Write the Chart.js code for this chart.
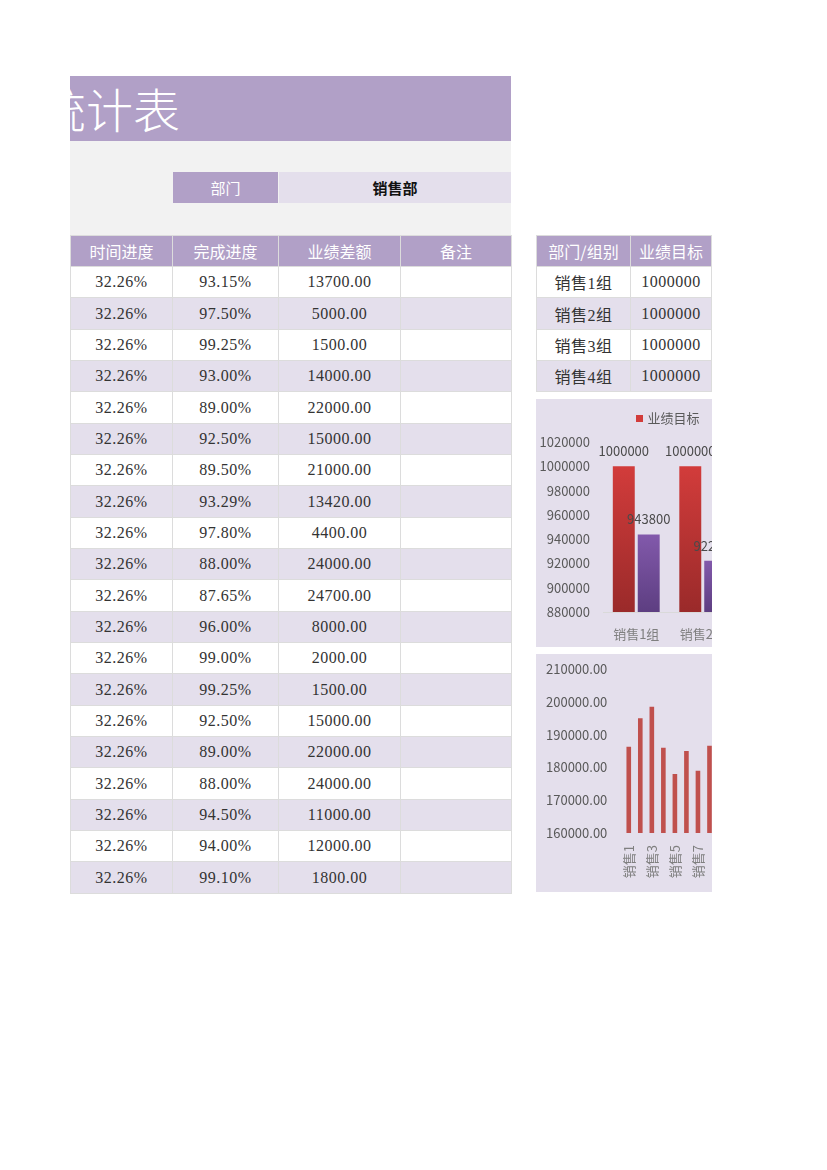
<!DOCTYPE html>
<html><head><meta charset="utf-8">
<script src="https://cdn.jsdelivr.net/npm/chart.js@4.4.1/dist/chart.umd.min.js"></script>
<style>
html,body{margin:0;padding:0;background:#fff;}
body{width:827px;height:1170px;position:relative;overflow:hidden;font-family:"Noto Sans CJK SC",sans-serif;}
.a{position:absolute;box-sizing:border-box;}
.cell{position:absolute;display:flex;align-items:center;justify-content:center;white-space:nowrap;overflow:hidden;}
.hd{background:#b1a0c7;color:#fff;font-size:16px;font-family:"Noto Sans CJK SC",sans-serif;}
.num{font-family:"Liberation Serif","Noto Sans CJK SC",serif;font-size:16px;color:#333;letter-spacing:0.5px;}
.w{background:#fff;}
.l{background:#e4dfec;}
</style>
</head><body>
<!-- title band -->
<div class="a" style="left:70px;top:76px;width:441px;height:65px;background:#b1a0c7;overflow:hidden;">
  <span id="title" style="position:absolute;right:331px;top:4px;font-size:47px;line-height:56px;color:#fff;white-space:nowrap;font-weight:300;">销售业绩统计表</span>
</div>
<!-- gray band -->
<div class="a" style="left:70px;top:141px;width:441px;height:94px;background:#f2f2f2;"></div>
<div class="cell hd" style="left:173px;top:172px;width:105px;height:31px;font-size:15px;">部门</div>
<div class="cell l" style="left:279px;top:172px;width:232px;height:31px;font-size:15px;font-weight:bold;color:#111;">销售部</div>

<div id="mainTable" class="a" style="left:70px;top:0;width:442px;height:0;background:#dcdcdc;"></div>
<div id="right" class="a" style="left:536px;top:0;width:176px;height:1170px;overflow:hidden;">
  <div id="sideTable" class="a" style="left:0;top:0;width:240px;height:0;background:#dcdcdc;"></div>
  <div class="a" style="left:0;top:399px;width:360px;height:248px;background:#e4dfec;">
    <canvas id="c1" width="350" height="248" style="position:absolute;left:0;top:0;"></canvas>
  </div>
  <div class="a" style="left:0;top:654px;width:360px;height:238px;background:#e4dfec;">
    <canvas id="c2" width="340" height="238" style="position:absolute;left:0;top:0;"></canvas>
  </div>
</div>

<script>
// ---------- data ----------
const mainHeaders = ['时间进度','完成进度','业绩差额','备注'];
const timeProgress = ['32.26%','32.26%','32.26%','32.26%','32.26%','32.26%','32.26%','32.26%','32.26%','32.26%','32.26%','32.26%','32.26%','32.26%','32.26%','32.26%','32.26%','32.26%','32.26%','32.26%'];
const completion = ['93.15%','97.50%','99.25%','93.00%','89.00%','92.50%','89.50%','93.29%','97.80%','88.00%','87.65%','96.00%','99.00%','99.25%','92.50%','89.00%','88.00%','94.50%','94.00%','99.10%'];
const gapAmount = ['13700.00','5000.00','1500.00','14000.00','22000.00','15000.00','21000.00','13420.00','4400.00','24000.00','24700.00','8000.00','2000.00','1500.00','15000.00','22000.00','24000.00','11000.00','12000.00','1800.00'];
const sideHeaders = ['部门/组别','业绩目标'];
const groups = ['销售1组','销售2组','销售3组','销售4组'];
const seriesNames = ['业绩目标','完成额'];
const groupTargets = [1000000,1000000,1000000,1000000];
const groupActual = [943800,922180,948800,929200];
const yTickValues1 = [880000,900000,920000,940000,960000,980000,1000000,1020000];
const salesNames = ['销售1','销售2','销售3','销售4','销售5','销售6','销售7','销售8','销售9','销售10','销售11','销售12','销售13','销售14','销售15','销售16','销售17','销售18','销售19','销售20'];
const salesActual = [186300,195000,198500,186000,178000,185000,179000,186580,195600,176000,175300,192000,198000,198500,185000,178000,176000,189000,188000,198200];
const yTickValues2 = [160000,170000,180000,190000,200000,210000];

// ---------- tables ----------
function rowTop(k){ return Math.round(234.7 + k*31.33); }
function buildTable(el, colX, rows, originX){
  const t0 = rowTop(0);
  const tEnd = rowTop(rows.length);
  el.style.top = t0 + 'px';
  el.style.height = (tEnd + 1 - t0) + 'px';
  rows.forEach((r, k) => {
    const top = rowTop(k) + 1 - t0;
    const h = rowTop(k+1) - rowTop(k) - 1;
    r.cells.forEach((txt, c) => {
      const d = document.createElement('div');
      d.className = 'cell ' + r.cls;
      d.style.left = (colX[c] + 1 - originX) + 'px';
      d.style.width = (colX[c+1] - colX[c] - 1) + 'px';
      d.style.top = top + 'px';
      d.style.height = h + 'px';
      d.textContent = txt;
      el.appendChild(d);
    });
  });
}
const mainRows = [{cls:'hd', cells:mainHeaders}];
for (let i=0;i<timeProgress.length;i++){
  mainRows.push({cls:'num ' + (i%2===0?'w':'l'), cells:[timeProgress[i], completion[i], gapAmount[i], '']});
}
buildTable(document.getElementById('mainTable'), [70,172,278,400,511], mainRows, 70);
const sideRows = [{cls:'hd', cells:sideHeaders}];
for (let i=0;i<groups.length;i++){
  sideRows.push({cls:'num ' + (i%2===0?'w':'l'), cells:[groups[i], String(groupTargets[i])]});
}
buildTable(document.getElementById('sideTable'), [536,630,711], sideRows, 536);

// ---------- charts ----------
const FONT = '"Noto Sans CJK SC", sans-serif';
function barGrad(top, bottom){
  return (ctx) => {
    const chart = ctx.chart;
    const y = chart.scales && chart.scales.y;
    if (!chart.chartArea || !y || ctx.raw === undefined) return bottom;
    const y0 = y.getPixelForValue(ctx.raw);
    const y1 = y.getPixelForValue(y.min);
    const g = chart.ctx.createLinearGradient(0, y0, 0, y1);
    g.addColorStop(0, top);
    g.addColorStop(1, bottom);
    return g;
  };
}
const valueLabels = {
  id:'valueLabels',
  afterDatasetsDraw(chart){
    const ctx = chart.ctx;
    ctx.save();
    ctx.font = '13px ' + FONT;
    ctx.fillStyle = '#4a4a4a';
    ctx.textAlign = 'center';
    ctx.textBaseline = 'middle';
    chart.data.datasets.forEach((ds, di) => {
      chart.getDatasetMeta(di).data.forEach((el, i) => {
        ctx.fillText(String(ds.data[i]), el.x, el.y - 15);
      });
    });
    ctx.restore();
  }
};

new Chart(document.getElementById('c1'), {
  type:'bar',
  data:{
    labels:groups,
    datasets:[
      {label:seriesNames[0], data:groupTargets, backgroundColor:barGrad('#d23c3b','#9a2a2a'), barPercentage:0.88, categoryPercentage:0.75},
      {label:seriesNames[1], data:groupActual, backgroundColor:barGrad('#8259ab','#5d3e81'), barPercentage:0.88, categoryPercentage:0.75}
    ]
  },
  options:{
    responsive:false, animation:false, devicePixelRatio:1,
    layout:{padding:{left:0, right:17, top:-6, bottom:0}},
    plugins:{
      legend:{display:true, position:'top',
        labels:{usePointStyle:true, pointStyle:'rect', boxWidth:3, boxHeight:7, padding:19, color:'#595959', font:{size:13, family:FONT}}},
      tooltip:{enabled:false}
    },
    scales:{
      x:{grid:{display:false, drawTicks:false}, border:{display:true, color:'#d9d9d9'},
         ticks:{color:'#7f7f7f', font:{size:13, family:FONT}, padding:14},
         afterFit(s){ s.height = 35; }},
      y:{min:yTickValues1[0], max:1025800,
         grid:{display:false, drawTicks:false}, border:{display:false},
         ticks:{color:'#595959', font:{size:13, family:FONT}, padding:13, callback(v){ return String(v); }},
         afterBuildTicks(s){ s.ticks = yTickValues1.map(v => ({value:v})); },
         afterFit(s){ s.width = 67; }}
    }
  },
  plugins:[valueLabels]
});

new Chart(document.getElementById('c2'), {
  type:'bar',
  data:{
    labels:salesNames,
    datasets:[{label:seriesNames[1], data:salesActual, backgroundColor:'#c0504d', barPercentage:0.5, categoryPercentage:0.8}]
  },
  options:{
    responsive:false, animation:false, devicePixelRatio:1,
    layout:{padding:{left:10, right:22, top:15, bottom:0}},
    plugins:{legend:{display:false}, tooltip:{enabled:false}},
    scales:{
      x:{grid:{display:false, drawTicks:false}, border:{display:false},
         ticks:{autoSkip:false, minRotation:90, maxRotation:90, color:'#7f7f7f', font:{size:13, family:FONT}, padding:12,
                callback(v, i){ return i % 2 === 0 ? salesNames[i] : ''; }},
         afterFit(s){ s.height = 59; }},
      y:{min:yTickValues2[0], max:yTickValues2[yTickValues2.length-1],
         grid:{display:false, drawTicks:false}, border:{display:false},
         ticks:{crossAlign:'far', padding:0, color:'#595959', font:{size:13, family:FONT},
                callback(v){ return Number(v).toFixed(2); }},
         afterBuildTicks(s){ s.ticks = yTickValues2.map(v => ({value:v})); },
         afterFit(s){ s.width = 77; }}
    }
  }
});
</script>
</body></html>
